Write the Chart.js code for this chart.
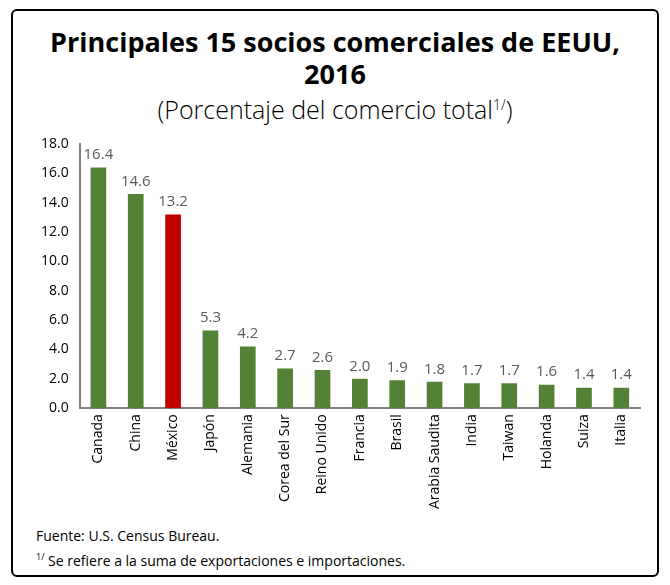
<!DOCTYPE html>
<html><head><meta charset="utf-8">
<script src="https://cdn.jsdelivr.net/npm/chart.js@4"></script>
<style>
body{margin:0;width:670px;height:585px;background:#fff;font-family:"Open Sans",sans-serif;position:relative;overflow:hidden}
#frame{position:absolute;left:11px;top:9px;width:644px;height:564px;border:2px solid #000;border-radius:6px}
#t1{position:absolute;left:0;width:670px;top:26px;text-align:center;font-weight:bold;font-size:27px;line-height:32px;color:#000}
#t2{position:absolute;left:0;width:670px;top:92px;text-align:center;font-size:25px;font-weight:300;color:#000}
#t2 sup{font-size:14px}
#wrap{position:absolute;left:20px;top:130px;width:630px;height:385px}
#foot{position:absolute;left:36px;top:525px;font-size:14px;line-height:21px;color:#000}
#foot sup{font-size:9px}
</style></head><body>
<div id="frame"></div>
<div id="t1">Principales 15 socios comerciales de EEUU,<br>2016</div>
<div id="t2">(Porcentaje del comercio total<sup>1/</sup>)</div>
<div id="wrap"><canvas id="c"></canvas></div>
<div id="foot">Fuente: U.S. Census Bureau.<br><sup>1/</sup> Se refiere a la suma de exportaciones e importaciones.</div>
<script>
const paises = ['Canada','China','México','Japón','Alemania','Corea del Sur','Reino Unido','Francia','Brasil','Arabia Saudita','India','Taiwan','Holanda','Suiza','Italia'];
const porcentajes = [16.4,14.6,13.2,5.3,4.2,2.7,2.6,2.0,1.9,1.8,1.7,1.7,1.6,1.4,1.4];
const resaltado = 'México';

const valueLabels = {
  id:'valueLabels',
  afterDatasetsDraw(chart){
    const ctx = chart.ctx, meta = chart.getDatasetMeta(0);
    ctx.save();
    ctx.font = '15px "Open Sans", sans-serif';
    ctx.fillStyle = '#595959';
    ctx.textAlign = 'center'; ctx.textBaseline = 'bottom';
    meta.data.forEach((b,i)=>{ ctx.fillText(porcentajes[i].toFixed(1), b.x, b.y-5); });
    ctx.restore();
  }
};

new Chart(document.getElementById('c'), {
  type:'bar',
  data:{ labels:paises, datasets:[{
    data:porcentajes,
    backgroundColor:paises.map(p=> p===resaltado ? '#c00000' : '#538135'),
    barPercentage:0.42, categoryPercentage:1
  }]},
  options:{
    responsive:true, maintainAspectRatio:false, animation:false,
    layout:{padding:{top:14,right:10,left:18}},
    plugins:{legend:{display:false}, tooltip:{enabled:false}},
    scales:{
      x:{ grid:{display:false, drawTicks:false},
          border:{color:'#808080', width:2},
          ticks:{color:'#000', font:{size:14, family:'"Open Sans", sans-serif'}, minRotation:90, maxRotation:90, padding:6} },
      y:{ min:0, max:18, grid:{display:false},
          border:{color:'#808080', width:2},
          ticks:{stepSize:2, color:'#000', font:{size:14, family:'"Open Sans", sans-serif'}, callback:v=>v.toFixed(1)} }
    }
  },
  plugins:[valueLabels]
});
</script>
</body></html>
